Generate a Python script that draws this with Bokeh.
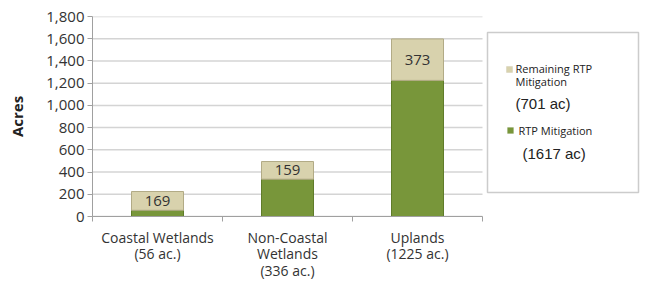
from bokeh.plotting import figure
from bokeh.models import (ColumnDataSource, NumeralTickFormatter,
                          LabelSet, BoxAnnotation, Label, FixedTicker, Range1d,
                          LinearAxis)
from bokeh.core.properties import value
from bokeh.embed import file_html
from bokeh.resources import INLINE

categories = ["Coastal Wetlands\n(56 ac.)", "Non-Coastal\nWetlands\n(336 ac.)", "Uplands\n(1225 ac.)"]
rtp_mitigation = [56, 336, 1225]
remaining_rtp = [169, 159, 373]
y_ticks = [0, 200, 400, 600, 800, 1000, 1200, 1400, 1600, 1800]

legend_rem = ["Remaining RTP", "Mitigation", "(701 ac)"]
legend_mit = ["RTP Mitigation", "(1617 ac)"]

GREEN = "#78963A"
TAN = "#D8D2AD"

# layout (pixels)
FRAME_LEFT, FRAME_TOP, FRAME_H, CAT_W = 92, 16, 200, 130
FIG_W = 640
FRAME_W = FIG_W - FRAME_LEFT

n = len(categories)
xpos = [i + 0.5 for i in range(n)]
label_y = [m + r / 2 for m, r in zip(rtp_mitigation, remaining_rtp)]
src = ColumnDataSource(dict(x=xpos, mit=rtp_mitigation, rem=remaining_rtp,
                            ly=label_y, txt=[str(v) for v in remaining_rtp]))
ymax = y_ticks[-1]

p = figure(frame_width=FRAME_W, frame_height=FRAME_H, x_range=Range1d(0, FRAME_W / CAT_W),
           y_range=(0, ymax), output_backend="svg", toolbar_location=None,
           min_border_left=FRAME_LEFT, min_border_right=0, min_border_top=FRAME_TOP,
           min_border_bottom=0, x_axis_location=None)
p.outline_line_color = None
p.background_fill_color = "white"
p.xgrid.grid_line_color = None
p.ygrid.grid_line_color = None

# horizontal gridlines limited to the category area
p.segment(x0=[0] * len(y_ticks), x1=[n] * len(y_ticks), y0=y_ticks, y1=y_ticks,
          line_color="#D4D4D4", line_width=1.5)

p.vbar_stack(["mit", "rem"], x="x", width=0.4, source=src,
             fill_color=[GREEN, TAN], line_color=["#607C2A", "#B2AB86"], line_width=1)

p.add_layout(LabelSet(x="x", y="ly", text="txt", source=src, text_align="center",
                      text_baseline="middle", text_font=value("Open Sans"),
                      text_font_size="15px", text_color="#333333"))

# y axis
p.yaxis.ticker = FixedTicker(ticks=y_ticks)
p.yaxis.formatter = NumeralTickFormatter(format="0,0")
p.yaxis.axis_label = "Acres"
p.yaxis.axis_label_text_font = "Open Sans"
p.yaxis.axis_label_text_font_style = "bold"
p.yaxis.axis_label_text_font_size = "15px"
p.yaxis.axis_label_text_color = "#222222"
p.yaxis.axis_label_standoff = 16
p.yaxis.major_label_text_font = "Open Sans"
p.yaxis.major_label_text_font_size = "15px"
p.yaxis.major_label_text_color = "#333333"
p.yaxis.major_label_standoff = 3
p.yaxis.axis_line_color = "#A0A0A0"
p.yaxis.major_tick_line_color = "#A0A0A0"
p.yaxis.major_tick_out = 5
p.yaxis.major_tick_in = 0
p.yaxis.minor_tick_line_color = None

# x axis: boundary ticks (no labels) + category labels
bounds_ticks = list(range(n + 1))
tick_axis = LinearAxis(ticker=FixedTicker(ticks=bounds_ticks), bounds=(0, n),
                       major_label_overrides={t: "" for t in bounds_ticks},
                       axis_line_color="#A0A0A0", major_tick_line_color="#A0A0A0",
                       major_tick_out=5, major_tick_in=0, minor_tick_line_color=None,
                       major_label_standoff=0)
p.add_layout(tick_axis, "below")

cat_axis = LinearAxis(ticker=FixedTicker(ticks=xpos), bounds=(0, n),
                      major_label_overrides={x: c for x, c in zip(xpos, categories)},
                      axis_line_color=None, major_tick_line_color=None,
                      minor_tick_line_color=None,
                      major_label_text_font="Open Sans",
                      major_label_text_font_size="14px",
                      major_label_text_color="#333333",
                      major_label_text_line_height=0.89,
                      major_label_standoff=0)
p.add_layout(cat_axis, "below")

# legend (positions given in page pixels, converted to data space)
def dx(px):
    return (px - FRAME_LEFT) / CAT_W

def dy(py):
    return (FRAME_TOP + FRAME_H - py) * ymax / FRAME_H

p.add_layout(BoxAnnotation(left=dx(487), right=dx(638), top=dy(32), bottom=dy(192),
                           fill_color="white", fill_alpha=1,
                           line_color="#555555", line_width=1.5))
p.add_layout(BoxAnnotation(left=dx(506), right=dx(512), top=dy(66), bottom=dy(72),
                           fill_color=TAN, fill_alpha=1, line_color="#A09870",
                           line_width=0.5))
p.add_layout(BoxAnnotation(left=dx(507), right=dx(513), top=dy(127), bottom=dy(133),
                           fill_color=GREEN, fill_alpha=1, line_color="#5E7A28",
                           line_width=0.5))

for txt, x, y, fs, font in [(legend_rem[0], 515, 68, "11px", "Open Sans"),
                            (legend_rem[1], 515, 81, "11px", "Open Sans"),
                            (legend_rem[2], 515, 103, "15px", "Liberation Sans"),
                            (legend_mit[0], 518, 130, "11px", "Open Sans"),
                            (legend_mit[1], 522, 153, "15px", "Liberation Sans")]:
    p.add_layout(Label(x=dx(x), y=dy(y), text=txt, text_font=font, text_font_size=fs,
                       text_color="#222222", text_baseline="middle"))

open("out.html", "w").write(file_html(p, INLINE))
